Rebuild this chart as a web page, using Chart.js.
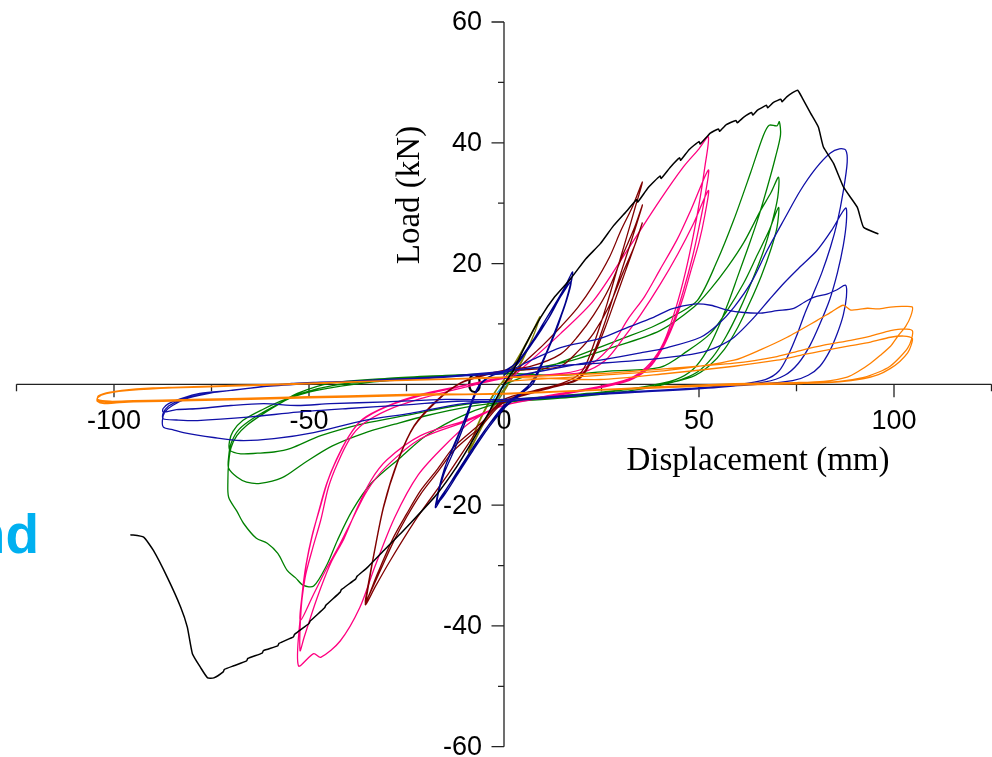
<!DOCTYPE html>
<html>
<head>
<meta charset="utf-8">
<script src="https://cdn.jsdelivr.net/npm/chart.js@4/dist/chart.umd.min.js"></script>
<style>
html,body{margin:0;padding:0;background:#fff;overflow:hidden;}
#wrap{position:relative;width:992px;height:757px;}
canvas{display:block;}
</style>
</head>
<body>
<div id="wrap"><canvas id="c" width="992" height="757"></canvas></div>
<script>
// ---- axis ticks ----
const xMajorTicks = [-100, -50, 0, 50, 100];
const xMinorTicks = [-125, -75, -25, 25, 75, 125];
const yMajorTicks = [-60, -40, -20, 0, 20, 40, 60];
const yMinorTicks = [-50, -30, -10, 10, 30, 50];
const xTitle = "Displacement (mm)";
const yTitle = "Load (kN)";
const sideText = "nd";

// ---- series: [displacement mm, load kN] ----
const skeleton = [[-95.8,-24.9],[-92.4,-25.3],[-89.9,-27.5],[-86.3,-32.0],[-82.9,-36.9],[-81.2,-40.2],[-79.9,-44.6],[-77.8,-46.9],[-76.0,-48.6],[-74.4,-48.6],[-72,-47.6],[-71.7,-47.2],[-69.3,-46.6],[-66,-45.8],[-65.7,-45.4],[-62,-44.5],[-61.7,-44.1],[-58,-43.3],[-57.7,-42.9],[-54,-41.8],[-53.7,-41.4],[-50,-39.6],[-49.7,-39.2],[-46,-37],[-45.7,-36.6],[-42,-34.4],[-41.7,-34],[-38,-32.2],[-37.7,-31.8],[-35,-30.3],[-30.5,-27.3],[-26.5,-24.7],[-21.4,-21.2],[-17.1,-18.1],[-12.5,-14],[-8.5,-9.8],[-4,-4.8],[0,0],[2.4,2.3],[5.5,6.5],[9.4,11.1],[13,14.5],[17.1,17.5],[21,20.8],[24.7,23.3],[28,26.2],[31.6,28.8],[34,30.6],[34.3,30.2],[37,32.6],[40,34.5],[40.3,34.1],[42.7,36.0],[45,37.5],[45.3,37.1],[47.5,38.9],[50,40.2],[50.3,39.8],[52.9,41.6],[55,42.3],[55.3,41.9],[57,43],[59.5,43.7],[59.8,43.3],[61.4,44.2],[63.5,45],[63.8,44.6],[65,45.4],[67.3,46.2],[67.6,45.8],[69.1,46.7],[71,47.2],[71.3,46.8],[72.5,47.6],[74,48.3],[75.3,48.7],[76.5,47.4],[78.6,44.9],[80.6,42.6],[81.9,39.3],[84.5,36.6],[87.1,32.6],[90.6,29.3],[92.2,26.0],[96.0,24.9]];

const olive = [[0,0],[3,3.5],[6,7],[9.2,11.2],[7.5,8],[5,4.5],[2,1],[0,-1.2],[-3,-4],[-6,-7.5],[-9.1,-11.3],[-7.5,-8],[-5,-4.5],[-2,-1],[0,0.8],[3,3.8],[6,7.2],[9,10.8],[7,7.2],[4,3],[1,0],[-2,-2.5],[-5,-6.2],[-8.8,-10.6],[-7,-7],[-4,-3],[-1,0],[0,0.5]];

const cyan = [[0,0],[1.5,1.5],[3,3.5],[2,1.5],[0,-0.8],[-2,-2.8],[-3.5,-4.5],[-2.5,-2.2],[0,0]];

const navy = [[0,1.5],[3.5,3.4],[7,6.8],[10,10],[13,13.2],[15.5,16],[17.6,18.6],[16.2,14.5],[14,10],[11.5,6],[9.5,3.2],[7.6,0.3],[4,-1.8],[0,-3.8],[-4,-6.8],[-8,-10.5],[-12,-14.5],[-15,-17.6],[-17.6,-20.4],[-15.5,-15],[-12.5,-10.5],[-9.5,-5.5],[-6.8,-0.6],[-4,1.2],[0,2.2],
[4,4],[8,7.5],[11,10.5],[14,14],[17.4,17.8],[16,14],[13.5,9.5],[11,5.5],[8.5,2],[6,-0.5],[2,-2.8],[0,-4],[-4,-7.2],[-8,-11],[-12,-15],[-15.5,-18.5],[-17.4,-19.8],[-15.3,-14],[-12,-9],[-9,-4],[-6.5,-0.3],[-3,1.5],[0,2],
[4,4.2],[8,7.8],[11.5,11],[14.5,14.5],[17.2,17],[15.6,13],[13,8.5],[10.5,4.5],[8,1],[4,-1.5],[0,-3.5],[-4,-6.8],[-8,-10.6],[-12,-14.6],[-15.5,-18],[-17.2,-19.5],[-15,-13.5],[-11.5,-8],[-8.5,-3.5],[-6,0],[-2,1.8],[0,2]];

const maroon = [[0,0],[5,3.5],[10,6.5],[14.5,9.5],[19,12.8],[23,16.5],[27,21],[30,25.5],[33,29.5],[35.5,33.5],[33.5,29],[31.5,24.5],[29,19],[26.5,13.5],[24,8.5],[21.5,4],[19.5,1.8],[15,0.2],[8,-1],[0,-2.5],[-4,-5],[-8.6,-9.3],[-15,-15.5],[-22.2,-22],[-29,-29],[-33,-33.5],[-35.5,-36.5],[-35.1,-34.7],[-33.5,-28.7],[-30.9,-20.4],[-27.4,-13.1],[-23.2,-7.1],[-17.1,-2.7],[-11.2,0.2],[-5,1.6],[0,2.3],
[7,3],[14.5,5],[19,8],[23,11.5],[27,16],[30.5,21.5],[33.5,26],[35.5,29.7],[33.5,25.5],[31,20.5],[28.5,15.5],[26,10.5],[23.5,6],[21,2.5],[18.5,0.8],[12,-0.5],[0,-2.8],[-6,-6.5],[-12.9,-10.4],[-17,-14],[-21.4,-17.6],[-25,-21.5],[-28.3,-25.3],[-32.4,-31.3],[-35.5,-36.2],[-35,-34],[-33.3,-28],[-30.7,-19.8],[-27.2,-12.6],[-23,-6.8],[-17,-2.5],[-11,0.3],[-5,1.6],[0,2.2],
[7,2.5],[14.5,3],[19,5.5],[23,8.5],[27,13],[30.5,18.5],[33.5,23],[35.5,26.8],[33.5,23],[31,18.5],[28.5,14],[26,9.5],[23.5,5.5],[21,2.2],[18.5,0.6],[12,-0.6],[0,-3],[-6,-7],[-12.9,-11],[-17,-14.5],[-21.4,-18.2],[-25,-22],[-28.3,-26],[-32.4,-31.8],[-35.5,-36],[-35,-33.8],[-33.4,-28.2],[-30.8,-20],[-27.3,-12.8],[-23.1,-7],[-17,-2.6],[-11.1,0.2],[-5,1.5],[0,2.2]];

const pink = [[0,0],[7,4],[14.5,8.4],[23,13.9],[31.6,22.2],[40,30.5],[46,36],[50,39],[52.4,41],[51.5,36],[50.2,30.5],[48.5,24.5],[46.5,18.5],[44,12.5],[41,7],[37.5,3.5],[33,1.2],[27,0],[15,-1.5],[0,-3.5],[-8,-6],[-15,-10],[-22,-15],[-28,-22],[-33,-30],[-37,-37],[-42,-42.5],[-47,-45.2],[-48.8,-44.6],[-52.7,-46.6],[-52.3,-39],[-51,-32],[-49,-27],[-47,-22.5],[-45,-17],[-42.7,-13.1],[-39.5,-9],[-36,-6.5],[-30,-4.3],[-22,-2.5],[-12,-0.8],[0,1],
[10,1.5],[20,2.5],[27,6],[32,11],[36,14.5],[40,19],[44.4,24],[48,29],[52.4,35.5],[51.5,31],[50,26],[48.3,21],[46,15.5],[43.5,10.5],[40.5,6],[37,2.8],[32,0.8],[25,-0.3],[12,-1.8],[0,-3.5],[-10,-6],[-21.4,-8.5],[-30,-12.5],[-34.2,-16],[-38,-21],[-41,-25.5],[-44.5,-29.7],[-48,-35.5],[-51.3,-42],[-52.3,-44.1],[-52,-37],[-51,-31],[-49.5,-26],[-47.5,-21],[-45.5,-16.5],[-43,-12.5],[-40,-8.8],[-36.5,-6],[-30.5,-3.8],[-22,-2],[-12,-0.5],[0,1.2],
[10,1.5],[20,2],[26,4],[31,8],[35,11.5],[40,16.5],[44.5,21.5],[48.5,26.5],[52.4,32.1],[51.5,28],[50,23.5],[48,19],[46,14.5],[43.5,10],[40.5,5.8],[37,2.6],[32,0.6],[25,-0.5],[12,-2],[0,-3.5],[-10,-6.2],[-21.4,-9],[-30,-13.5],[-35,-17.5],[-39,-22.5],[-42.5,-27],[-45.5,-30.5],[-49,-35],[-52.2,-39.1],[-51.8,-35],[-50.8,-30],[-49.2,-25],[-47.2,-20.5],[-45.2,-16],[-42.8,-12.3],[-39.8,-8.6],[-36.3,-5.8],[-30.3,-3.7],[-22,-1.8],[-12,-0.4],[0,1]];

const green = [[0,0],[10,2.5],[20,5],[30,7.5],[38,9.5],[44,11.5],[49.6,13.9],[54.7,20.5],[58.9,27.2],[63.2,35],[66.5,41.2],[68,42.9],[70,42.8],[70.6,43.5],[70.9,41.3],[69.6,37.6],[67.5,32.6],[65,27.2],[62.5,22.5],[60,18],[57.5,13.5],[55,9.5],[52,5.5],[48.5,2.5],[44,0.8],[35,-0.5],[20,-1.8],[0,-3],[-10,-5],[-20,-8.5],[-26.5,-12.1],[-34.2,-16.5],[-39,-21],[-42.7,-25.8],[-45.5,-30],[-48.8,-33.4],[-51.4,-33.3],[-53.5,-32],[-55.6,-30.8],[-58,-28],[-60.7,-26.3],[-63.5,-25.5],[-66.8,-23],[-68.5,-21],[-70.6,-18.7],[-70.8,-16],[-70.6,-13],[-70,-10.5],[-68.5,-8.5],[-66,-6.8],[-61.6,-4.8],[-57,-3],[-53,-1.5],[-44.5,0.2],[-30,1],[-15,1.5],[0,2],
[14.5,3.5],[27.3,6],[40,8.9],[48.7,12.8],[53,15.8],[57.3,19.4],[61.5,23.5],[65.8,28.8],[68.5,31.8],[70.4,34.3],[70.2,31],[68.8,27],[66.5,22],[63.5,17],[60.5,12.5],[57,8],[53.5,4.5],[49.5,2],[44,0.5],[35,-0.8],[20,-2],[0,-3],[-10,-3.8],[-20,-5.2],[-28,-6.6],[-36,-8.1],[-44,-10.2],[-51.4,-13.1],[-57,-15.5],[-62.5,-16.4],[-66,-16.2],[-68.4,-15.4],[-70.6,-13.9],[-70.6,-12],[-70,-9.8],[-68,-7.5],[-64,-5.5],[-58,-3.3],[-52,-1.5],[-44,-0.2],[-30,0.8],[-15,1.4],[0,1.8],
[14.5,1.5],[27,2.2],[40,2.8],[47,5.5],[52.9,8.4],[57,12],[61.4,16.7],[65,21.5],[68,25.5],[70.4,29.3],[70,26],[68.5,22.5],[66,18],[63,13.5],[60,9.5],[56.5,5.8],[52.5,3],[48,1.2],[40,0],[25,-1.3],[0,-2.6],[-12,-3.5],[-24,-5],[-36,-6.5],[-47,-8.5],[-54.7,-10.6],[-59,-11.2],[-63.2,-11.4],[-67.5,-11.5],[-70.3,-10.9],[-70.4,-9.5],[-69.5,-7.8],[-67,-6],[-62,-4.2],[-56,-2.5],[-48,-1],[-35,0.3],[-18,1.2],[0,1.8]];

const blue = [[0,1],[12,2.5],[24.7,4],[35,5.2],[41.9,6.1],[50.4,7.8],[55,10],[59,12.8],[63.5,17],[67.5,22.2],[72,27.5],[76,32.1],[80,35.8],[83.7,38.3],[86,39],[87.6,38.8],[88,36.8],[87,32],[85.5,27],[83.7,22.7],[81.5,18.5],[79.3,15],[77,11.5],[75,8],[73,5],[70.5,2.2],[67,0.8],[60,0],[45,-0.8],[25,-1.6],[0,-2.8],[-10.4,-3.2],[-24,-4.8],[-36,-6],[-48.8,-8],[-59,-9],[-67.6,-9.3],[-74.5,-8.8],[-82.2,-8],[-85,-7.5],[-87.3,-7.1],[-87.6,-6],[-87,-4.6],[-85,-3.5],[-81,-2.3],[-75,-1.4],[-70,-1],[-60,-0.2],[-53,0.2],[-40,0.5],[-27,0.8],[-15,1.3],[-6,1.8],[0,2.2],
[12,3],[24.7,3.5],[40,4.3],[50,5.2],[55,6.3],[59,7.8],[64,11],[68,14],[71.7,16.7],[76,19.5],[80.3,22.2],[84,25.5],[87.6,29.2],[87.8,27],[87,23],[85.5,18.5],[83.5,14],[81,10],[78.5,6.5],[75.5,3.5],[72,1.5],[67,0.4],[55,-0.5],[35,-1.3],[15,-2],[0,-2.8],[-12,-2.8],[-25,-3.4],[-40,-4],[-53,-4.6],[-65,-5.4],[-78.6,-6],[-84,-5.9],[-87.4,-5.7],[-87.4,-4.8],[-86,-3.6],[-83,-2.6],[-77,-1.6],[-70,-1],[-60,-0.3],[-45,0.3],[-30,0.8],[-15,1.3],[0,2],
[7,4],[14.5,6.1],[24.7,7.6],[31.6,9.4],[38,11],[43,12.5],[48.7,13.3],[53,13.1],[57.3,12.3],[61.5,11.9],[65.8,11.8],[70,12.2],[74.3,12.6],[77,13.6],[79.4,14.4],[83,15],[85.5,15.7],[87.6,16.4],[87.8,14.5],[87,11.5],[85.5,8.5],[83.5,5.5],[81,3],[78,1.5],[74,0.6],[65,0],[50,-0.6],[30,-1.3],[0,-2.5],[-15,-2.5],[-30,-2.9],[-44.5,-3.2],[-53,-3.5],[-61.6,-3.2],[-70,-3.5],[-78,-4],[-84,-4.2],[-87.4,-4.6],[-87.4,-4],[-86,-3.2],[-83,-2.4],[-78,-1.5],[-70,-1],[-53,0.2],[-27,0.7],[-10,1.4],[0,1.8]];

const orange = [[0,0.5],[24.7,1.5],[41.9,2.3],[59,4],[66,5.8],[72.6,7.8],[80.3,10.6],[84,12],[87,13.1],[88.9,12.3],[91,12.4],[93.2,12.6],[96,12.5],[99.1,12.8],[102,12.9],[104.7,12.8],[104.3,11.3],[103,9.6],[101,8],[99.1,6.3],[96.5,4.8],[94,3.5],[91,2.2],[88,1.2],[82,0.5],[75,0.3],[59,0.1],[40,-0.4],[20,-1],[0,-1.5],[-20,-1.7],[-40,-2],[-60,-2.3],[-80,-2.6],[-95,-2.9],[-100,-3.1],[-102.5,-3.2],[-104.3,-2.8],[-104.2,-2.2],[-102,-1.5],[-98,-1],[-90,-0.6],[-75,-0.3],[-60,0],[-40,0.4],[-20,0.8],[0,1.2],
[24.7,1.8],[41.9,2.6],[59,3.5],[70,4.6],[76,5.6],[82,6.5],[88.9,7.3],[94,8],[99.1,8.9],[102.5,9.2],[104.7,8.9],[104.5,7.5],[103.5,6],[101.5,4.5],[99,3],[96,2],[92,1.1],[86,0.5],[75,0.2],[55,-0.1],[35,-0.6],[15,-1.2],[0,-1.6],[-20,-1.8],[-40,-2.1],[-60,-2.4],[-80,-2.7],[-95,-2.9],[-101,-3.0],[-104.3,-2.7],[-104,-2],[-101,-1.4],[-96,-1],[-85,-0.6],[-70,-0.3],[-50,0.1],[-30,0.6],[-10,1],[0,1.2],
[24.7,0.8],[41.9,1.8],[59,3],[70,4],[76,4.8],[82,5.6],[88.9,6.4],[94,7],[99.1,7.8],[102.5,8],[104.7,7.6],[104.4,6.5],[103.5,5.2],[101.5,3.8],[99,2.6],[96,1.6],[92,0.9],[86,0.4],[75,0.1],[55,-0.2],[35,-0.7],[15,-1.2],[0,-1.6],[-20,-1.6],[-40,-1.9],[-60,-2.2],[-80,-2.5],[-95,-2.7],[-101,-2.8],[-104.2,-2.5],[-104,-1.9],[-101,-1.3],[-96,-0.9],[-85,-0.5],[-70,-0.2],[-50,0.2],[-30,0.6],[-10,0.9],[0,1.1]];

function series(points, color, width, tension) {
  return {
    data: points.map(p => ({x: p[0], y: p[1]})),
    showLine: true,
    borderColor: color,
    backgroundColor: color,
    borderWidth: width,
    pointRadius: 0,
    pointHoverRadius: 0,
    fill: false,
    tension: tension
  };
}

const axesPlugin = {
  id: 'crossAxes',
  beforeDatasetsDraw(chart) {
    const {ctx, chartArea} = chart;
    const xs = chart.scales.x, ys = chart.scales.y;
    const x0 = xs.getPixelForValue(0), y0 = ys.getPixelForValue(0);
    ctx.save();
    ctx.strokeStyle = '#222';
    ctx.lineWidth = 1.3;
    ctx.beginPath();
    ctx.moveTo(chartArea.left, y0); ctx.lineTo(chartArea.right, y0);
    ctx.moveTo(x0, ys.getPixelForValue(60)); ctx.lineTo(x0, ys.getPixelForValue(-60));
    xMajorTicks.forEach(v => { const p = xs.getPixelForValue(v); ctx.moveTo(p, y0); ctx.lineTo(p, y0 + 13); });
    xMinorTicks.forEach(v => { const p = xs.getPixelForValue(v); ctx.moveTo(p, y0); ctx.lineTo(p, y0 + 7); });
    yMajorTicks.forEach(v => { const p = ys.getPixelForValue(v); ctx.moveTo(x0, p); ctx.lineTo(x0 - 12.5, p); });
    yMinorTicks.forEach(v => { const p = ys.getPixelForValue(v); ctx.moveTo(x0, p); ctx.lineTo(x0 - 6, p); });
    ctx.stroke();
    ctx.fillStyle = '#000';
    ctx.font = "27px 'Liberation Sans', Arial, sans-serif";
    ctx.textAlign = 'center';
    ctx.textBaseline = 'middle';
    xMajorTicks.forEach(v => ctx.fillText(String(v), xs.getPixelForValue(v), y0 + 37));
    ctx.textAlign = 'right';
    yMajorTicks.forEach(v => ctx.fillText(String(v), x0 - 22, ys.getPixelForValue(v) + 1));
    ctx.restore();
  },
  afterDraw(chart) {
    const {ctx} = chart;
    ctx.save();
    ctx.fillStyle = '#000';
    ctx.font = "33px 'Liberation Serif', 'Times New Roman', serif";
    ctx.textAlign = 'center';
    ctx.textBaseline = 'alphabetic';
    ctx.fillText(xTitle, 758, 470);
    ctx.translate(419, 195);
    ctx.rotate(-Math.PI / 2);
    ctx.fillText(yTitle, 0, 0);
    ctx.restore();
    ctx.save();
    ctx.fillStyle = '#00b0f0';
    ctx.font = "bold 55px 'Liberation Sans', Arial, sans-serif";
    ctx.textAlign = 'right';
    ctx.textBaseline = 'alphabetic';
    ctx.fillText(sideText, 39, 553);
    ctx.restore();
  }
};

new Chart(document.getElementById('c'), {
  type: 'scatter',
  data: {
    datasets: [
      series(skeleton, '#000000', 1.5, 0.15),
      series(orange, '#ff8000', 1.3, 0.25),
      series(blue, '#1010a8', 1.3, 0.3),
      series(navy, '#00008b', 1.3, 0.3),
      series(maroon, '#800000', 1.3, 0.3),
      series(pink, '#ff0080', 1.3, 0.3),
      series(green, '#008000', 1.3, 0.3),
      series(olive, '#808000', 1.3, 0.3),
      series(cyan, '#00b0f0', 1.2, 0.3)
    ]
  },
  options: {
    responsive: false,
    animation: false,
    layout: { padding: { left: 16.5, right: 0.5, top: 22, bottom: 10.3 } },
    scales: {
      x: { type: 'linear', min: -125, max: 125, display: false },
      y: { type: 'linear', min: -60, max: 60, display: false }
    },
    plugins: { legend: { display: false }, tooltip: { enabled: false } },
    events: []
  },
  plugins: [axesPlugin]
});
</script>
</body>
</html>
